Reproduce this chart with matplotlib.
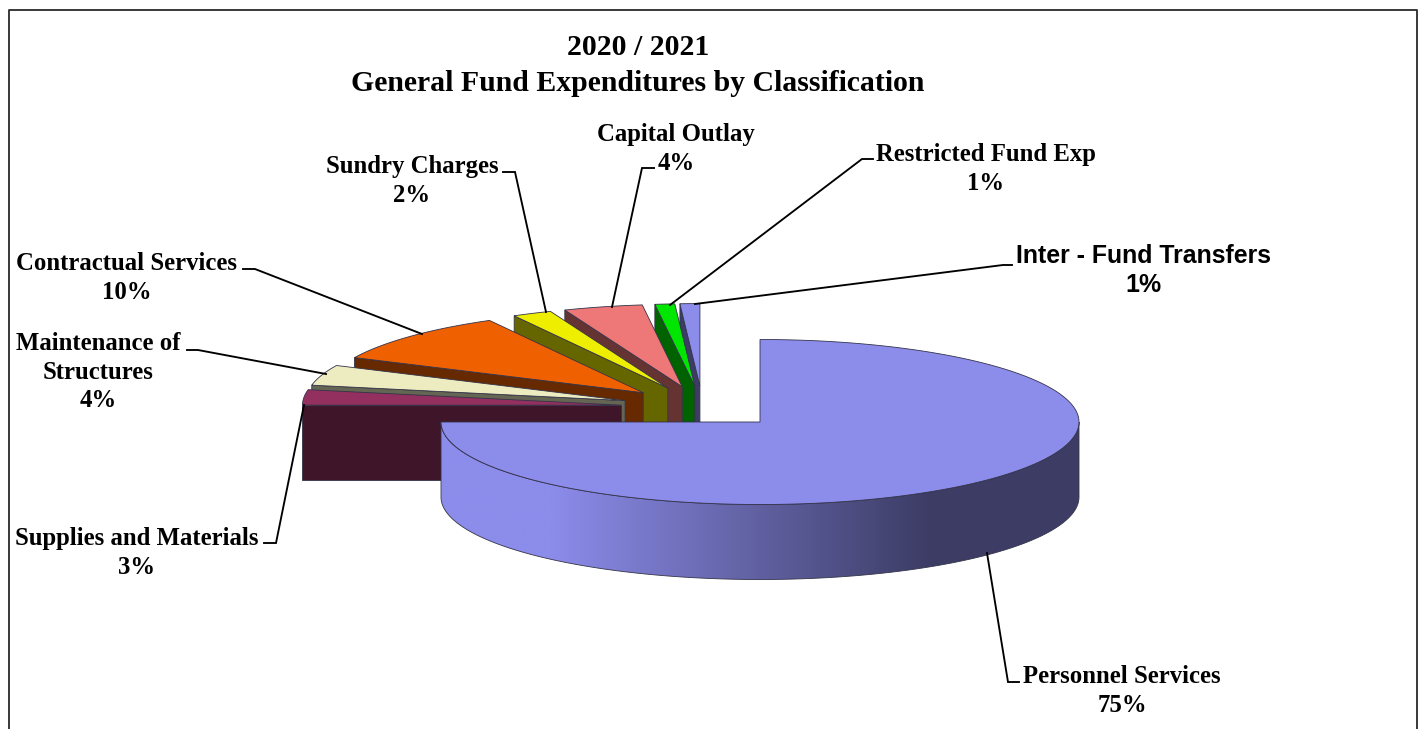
import numpy as np
import matplotlib
matplotlib.use("Agg")
import matplotlib.pyplot as plt
from matplotlib.patches import Polygon, PathPatch
from matplotlib.path import Path
from matplotlib.colors import to_rgb

# Slices clockwise from twelve o'clock
categories = ["Personnel Services", "Supplies and Materials", "Maintenance of\nStructures",
              "Contractual Services", "Sundry Charges", "Capital Outlay",
              "Restricted Fund Exp", "Inter - Fund Transfers"]
percent = [75, 3, 4, 10, 2, 4, 1, 1]
top_colors = ["#8C8CEB", "#933060", "#ECECC0", "#EE6000", "#EEEE00", "#EE7777", "#00E600", "#8C8CEB"]

title_lines = ["2020 / 2021", "General Fund Expenditures by Classification"]

# Label anchor: centre x, first baseline y; leader polyline in figure pixels
label_pos = [(1122, 683), (137, 545), (98, 350), (127, 270), (412, 173), (676, 141), (985.5, 161), (1143, 263)]
leaders = [
    [(987, 553), (1008, 682), (1019, 682)],
    [(304, 405), (276, 543), (264, 543)],
    [(326, 374), (198, 350), (187, 350)],
    [(422, 334), (255, 269), (243, 269)],
    [(546, 312), (515, 172), (503, 172)],
    [(612, 307), (642, 168), (654, 168)],
    [(670, 305), (862, 159), (873, 159)],
    [(695, 304), (1003, 265), (1012, 265)],
]

# Pie geometry in pixels
RX, RY, DEPTH = 319.0, 82.5, 75.0
EXPLODE = 0.255
MAIN_APEX = (760.0, 422.0)
SHADE = 0.43
EDGE = "#33334a"

W, H = 1424, 729
fig = plt.figure(figsize=(W / 100, H / 100), dpi=100)
ax = fig.add_axes([0, 0, 1, 1])

shares = np.array(percent, dtype=float) / sum(percent)
stops = np.concatenate([[0], np.cumsum(shares)]) * 2 * np.pi


def rim(apex, a):
    # Point on the rim at clockwise angle a from twelve o'clock
    return apex[0] + RX * np.sin(a), apex[1] - RY * np.cos(a)


def offset(a):
    return EXPLODE * RX * np.sin(a), -EXPLODE * RY * np.cos(a)


mid = (stops[:-1] + stops[1:]) / 2
dx0, dy0 = offset(mid[0])
centre = (MAIN_APEX[0] - dx0, MAIN_APEX[1] - dy0)


def top_face(apex, a0, a1):
    t = np.linspace(a0, a1, 200)
    xs, ys = rim(apex, t)
    return np.column_stack([np.r_[apex[0], xs], np.r_[apex[1], ys]])


# Back slices first, so nearer ones paint over them
for i in range(len(percent) - 1, 0, -1):
    dx, dy = offset(mid[i])
    apex = (centre[0] + dx, centre[1] + dy)
    low = rim(apex, stops[i])
    side = [apex, low, (low[0], low[1] + DEPTH), (apex[0], apex[1] + DEPTH)]
    dark = tuple(c * SHADE for c in to_rgb(top_colors[i]))
    ax.add_patch(Polygon(side, closed=True, fc=dark, ec=EDGE, lw=0.6, zorder=2 + (len(percent) - i)))
    ax.add_patch(Polygon(top_face(apex, stops[i], stops[i + 1]), closed=True,
                         fc=top_colors[i], ec=EDGE, lw=0.6, zorder=2 + (len(percent) - i)))

# Front slice: curved wall with a horizontal metallic shade
t = np.linspace(np.pi / 2, np.pi * 3 / 2, 400)
xs, ys = rim(MAIN_APEX, t)
wall = np.vstack([np.column_stack([xs, ys]), np.column_stack([xs[::-1], ys[::-1] + DEPTH])])
ax.add_patch(Polygon(wall, closed=True, fc="none", ec=EDGE, lw=0.6, zorder=21))

xgrid = np.arange(MAIN_APEX[0] - RX, MAIN_APEX[0] + RX + 1)
light = np.array(to_rgb(top_colors[0]))
deep = light * SHADE
mix = np.interp(xgrid, [550, 930], [0, 1])
strip = (light[None, :] * (1 - mix[:, None]) + deep[None, :] * mix[:, None])[None, :, :]
im = ax.imshow(strip, extent=[xgrid[0], xgrid[-1], 600, 400], aspect="auto", zorder=20, interpolation="bilinear")
clip = PathPatch(Path(wall, closed=False), transform=ax.transData, fc="none", ec="none")
ax.add_patch(clip)
im.set_clip_path(clip)

ax.add_patch(Polygon(top_face(MAIN_APEX, stops[0], stops[1]), closed=True,
                     fc=top_colors[0], ec=EDGE, lw=0.6, zorder=22))

# Leaders and labels
for pts in leaders:
    arr = np.array(pts)
    ax.plot(arr[:, 0], arr[:, 1], color="black", lw=1.35, zorder=30, solid_joinstyle="miter")

PITCH = 28.5
for name, pct, (cx, by) in zip(categories, percent, label_pos):
    sans = name.startswith("Inter")
    family = "Liberation Sans" if sans else "Liberation Serif"
    for j, line in enumerate(name.split("\n") + [f"{pct}%"]):
        ax.text(cx, by + j * PITCH, line, ha="center", va="baseline", family=family,
                weight="bold", fontsize=17.8 if not sans else 17.9, color="black", zorder=31)

for j, line in enumerate(title_lines):
    ax.text(638, 55 + j * 36, line, ha="center", va="baseline", family="Liberation Serif",
            weight="bold", fontsize=21.4, color="black", zorder=31)

# Outer frame, open at the foot of the canvas
ax.plot([8.5, 8.5, 1416.5, 1416.5], [H + 5, 9.5, 9.5, H + 5], color="#2a2a2a", lw=1.3, zorder=40)

ax.set_xlim(0, W)
ax.set_ylim(H, 0)
ax.axis("off")
fig.savefig("out.png", dpi=100, facecolor="white")
